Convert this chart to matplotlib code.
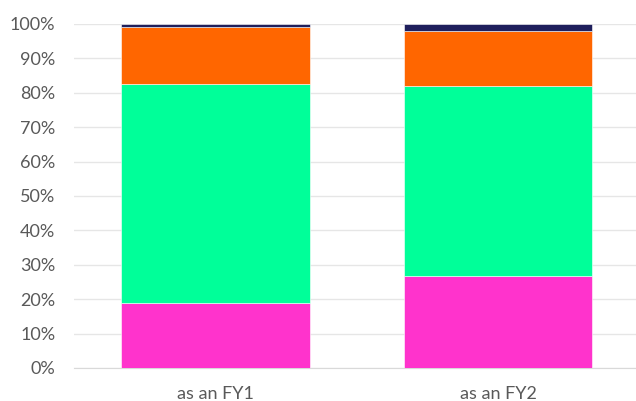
import matplotlib
matplotlib.use("Agg")
import matplotlib.pyplot as plt
import numpy as np
from matplotlib.ticker import PercentFormatter

# Shares per year (percent of total)
categories = ["as an FY1", "as an FY2"]
seg_magenta = [18.8, 26.6]
seg_green = [63.8, 55.5]
seg_orange = [16.5, 15.9]
seg_navy = [0.9, 2.0]

series = [seg_magenta, seg_green, seg_orange, seg_navy]
colors = ["#FF33CC", "#00FF99", "#FF6600", "#1F1F5C"]

plt.rcParams['font.family'] = ['Lato', 'DejaVu Sans']

fig = plt.figure(figsize=(6.36, 4.01), dpi=100)
# axis spans past the right edge like the original export
ax = fig.add_axes([74 / 636, 33 / 401, 565.4 / 636, 344 / 401])

x = np.arange(len(categories))
bottom = np.zeros(len(categories))
for vals, col in zip(series, colors):
    ax.bar(x, vals, width=0.668, bottom=bottom, color=col,
           edgecolor="white", linewidth=0.4, zorder=3)
    bottom += np.array(vals)

ax.set_ylim(0, 100)
ax.set_xlim(-0.5, 1.5)
ax.set_yticks(np.arange(0, 101, 10))
ax.yaxis.set_major_formatter(PercentFormatter(decimals=0))
ax.set_xticks(x)
ax.set_xticklabels(categories)

ax.grid(axis="y", color="#E6E6E6", linewidth=1, zorder=0)
for s in ["top", "right", "left"]:
    ax.spines[s].set_visible(False)
ax.spines["bottom"].set_color("#D9D9D9")
ax.tick_params(axis="both", length=0, labelsize=13, colors="#595959")
ax.tick_params(axis="y", pad=13.5)
ax.tick_params(axis="x", pad=13)

fig.savefig("out.png", dpi=100)
